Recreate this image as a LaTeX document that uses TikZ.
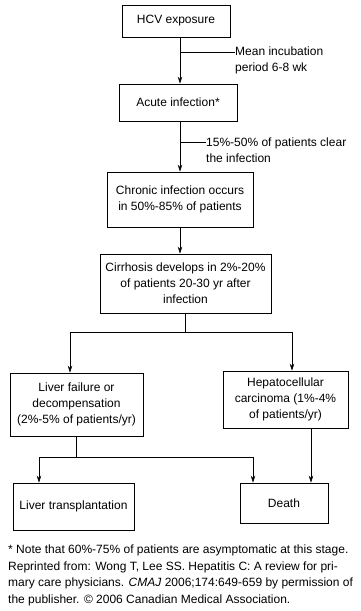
\documentclass[tikz,border=0pt]{standalone}
\usepackage{fontspec}
\setmainfont{Liberation Sans}
\usetikzlibrary{arrows.meta}

\begin{document}
\begin{tikzpicture}[x=1pt,y=-1pt,
    box/.style={draw,line width=0.7pt,align=center,inner sep=0pt,font=\fontsize{12}{16}\selectfont},
    note/.style={align=left,inner sep=0pt,font=\fontsize{12}{16}\selectfont},
    arr/.style={-{Stealth[length=7pt,width=4.5pt]},line width=0.7pt},
    ln/.style={line width=0.7pt}]
    \useasboundingbox (0,0) rectangle (361,611);

    % boxes
    \node[box,minimum width=108pt,minimum height=32pt] (hcv)     at (176,21)    {HCV exposure};
    \node[box,minimum width=118pt,minimum height=37pt] (acute)   at (178,102.5) {Acute infection*};
    \node[box,minimum width=146pt,minimum height=55pt] (chronic) at (180,199.5) {Chronic infection occurs\\in 50\%-85\% of patients};
    \node[box,minimum width=171pt,minimum height=59pt] (cirr)    at (185.5,283.5) {Cirrhosis develops in 2\%-20\%\\of patients 20-30 yr after\\infection};
    \node[box,minimum width=133pt,minimum height=63pt] (fail)    at (76.5,404.5) {Liver failure or\\decompensation\\(2\%-5\% of patients/yr)};
    \node[box,minimum width=125pt,minimum height=57pt] (hcc)     at (285.5,399.5) {Hepatocellular\\carcinoma (1\%-4\%\\of patients/yr)};
    \node[box,minimum width=121pt,minimum height=47pt] (transp)  at (73.5,506.5) {Liver transplantation};
    \node[box,minimum width=88pt,minimum height=40pt]  (death)   at (284,503)   {Death};

    % side notes
    \node[note,anchor=west] (incub) at (235,60) {Mean incubation\\period 6-8 wk};
    \node[note,anchor=west] (clear) at (206,150) {15\%-50\% of patients clear\\the infection};

    % trunk
    \draw[arr] (hcv.south -| chronic.north) -- (acute.north -| chronic.north);
    \coordinate (t1) at (180,52);
    \draw[ln] (t1) -- (t1 -| incub.west);
    \draw[arr] (acute.south -| chronic.north) -- (chronic.north);
    \coordinate (t2) at (180,142);
    \draw[ln] (t2) -- (t2 -| clear.west);
    \draw[arr] (chronic.south) -- (cirr.north -| chronic.south);

    % first split
    \coordinate (bl) at (70,332);
    \coordinate (br) at (292,332);
    \draw[ln] (cirr.south) -- (cirr.south |- bl);
    \draw[ln] (bl) -- (br);
    \draw[arr] (bl) -- (bl |- fail.north);
    \draw[arr] (br) -- (br |- hcc.north);

    % second split
    \coordinate (cl) at (39,457);
    \coordinate (cr) at (253,457);
    \draw[ln] (fail.south) -- (fail.south |- cl);
    \draw[ln] (cl) -- (cr);
    \draw[arr] (cl) -- (cl |- transp.north);
    \draw[arr] (cr) -- (cr |- death.north);
    \draw[arr] ([xshift=25.5pt]hcc.south) -- ([xshift=25.5pt]hcc.south |- death.north);

    % footnote
    \node[note,anchor=north west,font=\fontsize{12}{16.5}\selectfont] (foot) at (8,545)
        {* Note that 60\%-75\% of patients are asymptomatic at this stage.\\
         Reprinted from: Wong T, Lee SS. Hepatitis C: A review for pri-\\
         mary care physicians. \textit{CMAJ} 2006;174:649-659 by permission of\\
         the publisher. © 2006 Canadian Medical Association.};
\end{tikzpicture}
\end{document}
